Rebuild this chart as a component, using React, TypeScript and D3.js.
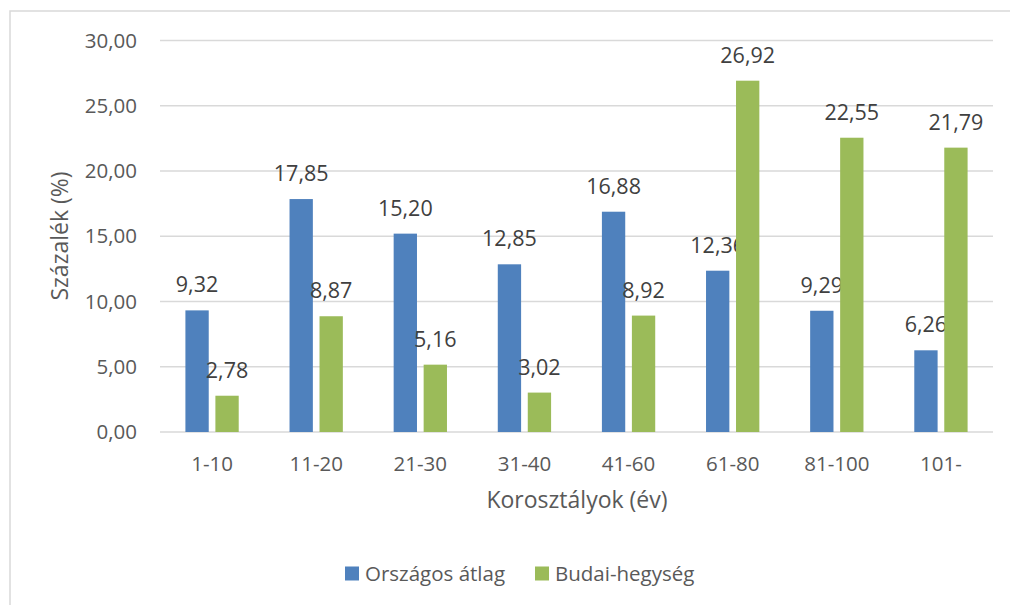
import React from 'react';
import * as d3 from 'd3';

const categories = ['1-10', '11-20', '21-30', '31-40', '41-60', '61-80', '81-100', '101-'];
const seriesNames = ['Országos átlag', 'Budai-hegység'];
const orszagos = [9.32, 17.85, 15.2, 12.85, 16.88, 12.36, 9.29, 6.26];
const budai = [2.78, 8.87, 5.16, 3.02, 8.92, 26.92, 22.55, 21.79];
const yTicks = [0, 5, 10, 15, 20, 25, 30];
const colors = ['#4f81bd', '#9bbb59'];

const W = 1010;
const H = 605;
const plot = { left: 160, right: 993, top: 40.5, bottom: 432 };
const font = "'Open Sans', 'Noto Sans', sans-serif";

const fmt = (v: number) => v.toFixed(2).replace('.', ',');

export default function App() {
  const x = d3.scaleBand<string>().domain(categories).range([plot.left, plot.right]).padding(0);
  const y = d3.scaleLinear().domain([0, 30]).range([plot.bottom, plot.top]);
  const step = x.bandwidth();
  const barW = step * 0.224;
  const gap = step * 0.064;
  const outer = (step - 2 * barW - gap) / 2;
  const series = [orszagos, budai];

  return (
    <svg width={W} height={H} style={{ position: 'absolute', left: 0, top: 0, background: '#fff' }} fontFamily={font}>
      <rect x={10} y={11} width={W} height={H} fill="#fff" stroke="#d9d9d9" strokeWidth={1.5} />

      {/* gridlines + y tick labels */}
      {yTicks.map((t) => (
        <g key={t}>
          <line x1={plot.left} x2={plot.right} y1={y(t)} y2={y(t)} stroke="#d9d9d9" strokeWidth={1.5} />
          <text x={137} y={y(t)} dy="0.35em" textAnchor="end" fontSize={20.5} fill="#595959">
            {fmt(t)}
          </text>
        </g>
      ))}

      {/* bars */}
      {series.map((vals, si) =>
        vals.map((v, i) => {
          const bx = (x(categories[i]) as number) + outer + si * (barW + gap);
          return (
            <g key={`${si}-${i}`}>
              <rect x={bx} y={y(v)} width={barW} height={y(0) - y(v)} fill={colors[si]} />
              <text x={bx + barW / 2} y={y(v) - 18} textAnchor="middle" fontSize={21.5} fill="#404040">
                {fmt(v)}
              </text>
            </g>
          );
        })
      )}

      {/* category labels */}
      {categories.map((c) => (
        <text key={c} x={(x(c) as number) + step / 2} y={471} textAnchor="middle" fontSize={20.5} fill="#595959">
          {c}
        </text>
      ))}

      {/* axis titles */}
      <text x={577} y={508} textAnchor="middle" fontSize={23} fill="#595959">
        Korosztályok (év)
      </text>
      <text transform={`translate(68,236) rotate(-90)`} textAnchor="middle" fontSize={23} fill="#595959">
        Százalék (%)
      </text>

      {/* legend */}
      {seriesNames.map((n, i) => {
        const lx = i === 0 ? 345 : 535;
        return (
          <g key={n}>
            <rect x={lx} y={566.5} width={14} height={14} fill={colors[i]} />
            <text x={lx + 20} y={580.5} fontSize={20.5} fill="#595959">
              {n}
            </text>
          </g>
        );
      })}
    </svg>
  );
}
